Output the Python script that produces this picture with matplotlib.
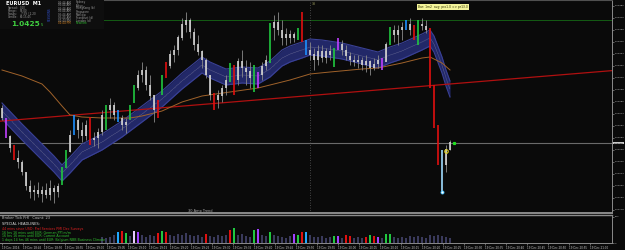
import matplotlib
matplotlib.use("Agg")
import matplotlib.pyplot as plt
import matplotlib.transforms as mtransforms
import numpy as np

W, H = 625, 250
BG = "#0a0a0a"

# ---- EURUSD M1 price bars ----
bar_high = [1.04283, 1.04270, 1.04253, 1.04243, 1.04238, 1.04228, 1.04216, 1.04208, 1.04203, 1.04206,
            1.04202, 1.04205, 1.04208, 1.04203, 1.04205, 1.04221, 1.04238, 1.04258, 1.04273, 1.04270,
            1.04266, 1.04268, 1.04271, 1.04256, 1.04260, 1.04278, 1.04283, 1.04290, 1.04286, 1.04278,
            1.04273, 1.04270, 1.04283, 1.04303, 1.04318, 1.04326, 1.04322, 1.04313, 1.04293, 1.04288,
            1.04313, 1.04326, 1.04338, 1.04343, 1.04353, 1.04370, 1.04376, 1.04370, 1.04360, 1.04353,
            1.04338, 1.04330, 1.04313, 1.04295, 1.04298, 1.04303, 1.04313, 1.04325, 1.04323, 1.04330,
            1.04338, 1.04328, 1.04326, 1.04323, 1.04316, 1.04326, 1.04333, 1.04365, 1.04373, 1.04376,
            1.04368, 1.04360, 1.04358, 1.04356, 1.04360, 1.04376, 1.04348, 1.04346, 1.04340, 1.04343,
            1.04343, 1.04340, 1.04343, 1.04340, 1.04350, 1.04348, 1.04343, 1.04336, 1.04333, 1.04333,
            1.04331, 1.04333, 1.04328, 1.04330, 1.04333, 1.04330, 1.04346, 1.04361, 1.04363, 1.04363,
            1.04366, 1.04368, 1.04370, 1.04363, 1.04368, 1.04370, 1.04368, 1.04360, 1.04303, 1.04263,
            1.04238, 1.04243, 1.04248]
bar_low = [1.04268, 1.04250, 1.04236, 1.04228, 1.04220, 1.04213, 1.04198, 1.04190, 1.04188, 1.04191,
           1.04186, 1.04190, 1.04188, 1.04185, 1.04191, 1.04203, 1.04220, 1.04236, 1.04253, 1.04250,
           1.04246, 1.04248, 1.04243, 1.04242, 1.04240, 1.04253, 1.04258, 1.04270, 1.04268, 1.04266,
           1.04258, 1.04255, 1.04268, 1.04285, 1.04298, 1.04306, 1.04298, 1.04288, 1.04266, 1.04270,
           1.04293, 1.04310, 1.04320, 1.04326, 1.04333, 1.04348, 1.04356, 1.04350, 1.04338, 1.04333,
           1.04320, 1.04310, 1.04288, 1.04278, 1.04280, 1.04286, 1.04293, 1.04306, 1.04293, 1.04303,
           1.04311, 1.04303, 1.04300, 1.04296, 1.04300, 1.04308, 1.04318, 1.04325, 1.04348, 1.04353,
           1.04343, 1.04343, 1.04345, 1.04346, 1.04348, 1.04346, 1.04333, 1.04328, 1.04318, 1.04323,
           1.04326, 1.04325, 1.04328, 1.04321, 1.04338, 1.04333, 1.04328, 1.04323, 1.04322, 1.04320,
           1.04318, 1.04316, 1.04313, 1.04318, 1.04320, 1.04318, 1.04328, 1.04343, 1.04346, 1.04343,
           1.04348, 1.04358, 1.04353, 1.04348, 1.04343, 1.04358, 1.04355, 1.04300, 1.04260, 1.04223,
           1.04196, 1.04216, 1.04238]
bar_close = [1.04270, 1.04252, 1.04240, 1.04230, 1.04226, 1.04216, 1.04202, 1.04196, 1.04198, 1.04194,
             1.04198, 1.04193, 1.04200, 1.04196, 1.04202, 1.04218, 1.04236, 1.04253, 1.04268, 1.04258,
             1.04252, 1.04263, 1.04248, 1.04250, 1.04256, 1.04273, 1.04278, 1.04283, 1.04273, 1.04270,
             1.04263, 1.04266, 1.04280, 1.04300, 1.04313, 1.04318, 1.04303, 1.04292, 1.04278, 1.04284,
             1.04308, 1.04322, 1.04333, 1.04338, 1.04350, 1.04363, 1.04368, 1.04356, 1.04343, 1.04336,
             1.04328, 1.04313, 1.04293, 1.04288, 1.04292, 1.04300, 1.04308, 1.04318, 1.04308, 1.04326,
             1.04320, 1.04316, 1.04310, 1.04318, 1.04313, 1.04322, 1.04328, 1.04360, 1.04366, 1.04358,
             1.04350, 1.04353, 1.04350, 1.04353, 1.04356, 1.04350, 1.04338, 1.04333, 1.04328, 1.04336,
             1.04330, 1.04336, 1.04333, 1.04338, 1.04343, 1.04338, 1.04332, 1.04328, 1.04326, 1.04328,
             1.04323, 1.04326, 1.04320, 1.04324, 1.04328, 1.04326, 1.04343, 1.04358, 1.04353, 1.04358,
             1.04360, 1.04363, 1.04358, 1.04356, 1.04364, 1.04362, 1.04358, 1.04303, 1.04263, 1.04238,
             1.04223, 1.04238, 1.04245]
first_open = 1.04280

# bars painted by the signal indicator
bar_paint = {1: "#c040ff", 3: "#e01010", 15: "#20c840", 16: "#20c840", 18: "#1e90ff",
             22: "#e01010", 26: "#20c840", 29: "#1e90ff", 32: "#20c840", 33: "#20c840",
             39: "#e01010", 40: "#20c840", 41: "#e01010", 53: "#e01010", 57: "#20c840",
             58: "#e01010", 63: "#20c840", 64: "#c040ff", 67: "#20c840", 74: "#20c840",
             75: "#e01010", 76: "#1e90ff", 83: "#20c840", 84: "#c040ff", 95: "#c040ff",
             97: "#20c840", 101: "#1e90ff", 103: "#e01010", 104: "#20c840", 107: "#e01010",
             108: "#e01010", 109: "#e01010", 110: "#9fdcff"}

# envelope band (centre) and slow moving average
band_idx = [0, 5, 10, 13, 15, 17, 20, 25, 30, 35, 40, 45, 50, 52, 56, 60, 64, 67, 70, 72,
            75, 77, 80, 85, 90, 94, 97, 100, 105, 107, 108, 110, 111, 112]
band_mid = [1.04277, 1.04256, 1.04236, 1.04224, 1.04215, 1.04223, 1.04236, 1.04246, 1.04259, 1.04274,
            1.04289, 1.04307, 1.04323, 1.04318, 1.04311, 1.04313, 1.04312, 1.04319, 1.04330, 1.04334,
            1.04338, 1.04341, 1.04340, 1.04337, 1.04332, 1.04328, 1.04333, 1.04337, 1.04346, 1.04350,
            1.04344, 1.04323, 1.04310, 1.04299]
band_half = 0.00008

ma_idx = [0, 5, 10, 12, 15, 17, 20, 25, 32, 35, 40, 45, 50, 57, 64, 67, 72, 77, 82, 90,
          94, 100, 105, 107, 110, 112]
ma_val = [1.04318, 1.04312, 1.04304, 1.04296, 1.04282, 1.04273, 1.04271, 1.04270, 1.04270, 1.04272,
          1.04277, 1.04286, 1.04292, 1.04296, 1.04300, 1.04303, 1.04308, 1.04314, 1.04316, 1.04319,
          1.04320, 1.04325, 1.04330, 1.04331, 1.04325, 1.04318]

trend_idx = [0, 112]
trend_val = [1.04267, 1.04304]
resistance = 1.04368
session_line_idx = 77
signal_idx = 111
signal_val = 1.04237

# tick count sub-window
vol_start = 25
vol_count = [22, 18, 25, 30, 42, 48, 40, 28, 47, 45, 30, 25, 33, 28, 40, 46, 44, 32, 27, 35,
             30, 38, 33, 26, 30, 24, 36, 28, 22, 30, 26, 32, 50, 60, 30, 34, 28, 24, 52, 55,
             30, 26, 44, 32, 28, 24, 20, 26, 34, 30, 44, 42, 30, 25, 22, 28, 20, 24, 28, 26,
             18, 30, 26, 20, 24, 18, 22, 32, 28, 24, 20, 34, 36, 22, 18, 24, 20, 26, 22, 28,
             24, 20, 30, 26, 32, 28, 22, 18]
vol_paint = {29: "#20a8ff", 30: "#e01010", 31: "#20c840", 33: "#e8c8ff", 34: "#a040ff",
             39: "#e01010", 40: "#20c840", 41: "#e01010", 51: "#e01010", 57: "#e01010",
             58: "#20c840", 63: "#20c840", 64: "#a040ff", 67: "#20c840", 73: "#a040ff",
             74: "#20c840", 75: "#e01010", 76: "#20a8ff", 83: "#20c840", 84: "#a040ff",
             86: "#e01010", 87: "#e01010", 91: "#e01010", 92: "#20c840", 93: "#e01010",
             94: "#a040ff", 96: "#20c840", 97: "#20c840"}

date_labels = ["19 Dec 2016", "19 Dec 18:45", "19 Dec 18:50", "19 Dec 18:55", "19 Dec 19:00",
               "19 Dec 19:05", "19 Dec 19:10", "19 Dec 19:15", "19 Dec 19:20", "19 Dec 19:25",
               "19 Dec 19:30", "19 Dec 19:35", "19 Dec 19:40", "19 Dec 19:45", "19 Dec 19:50",
               "19 Dec 19:55", "19 Dec 20:00", "19 Dec 20:05", "19 Dec 20:10", "19 Dec 20:15",
               "19 Dec 20:20", "19 Dec 20:25", "19 Dec 20:30", "19 Dec 20:35", "19 Dec 20:40",
               "19 Dec 20:45", "19 Dec 20:50", "19 Dec 20:55", "19 Dec 21:00"]

sessions = ["Sydney", "Tokyo", "HongKong (b)", "Singapore", "Moscow", "Frankfurt (d)",
            "London (d)", "NewYork"]
session_times = ["05:44 AM", "05:44 AM", "05:44 AM", "05:44 AM", "05:44 AM", "05:44 AM",
                 "01:44 PM", "01:44 PM"]
info_rows = [("Spread:", "0.20"), ("Range:", "59.00"), ("Swaps:", "-7.59 / 2.20"),
             ("Candle:", "00:15:45")]
headlines = [("44 mins since USD: Prel Services PMI Dec Surveys", "#e02020"),
             ("16 hrs 16 mins until EUR: German PPI m/m", "#30c030"),
             ("16 hrs 16 mins until EUR: Current Account", "#30c030"),
             ("1 days 14 hrs 46 mins until EUR: Belgium NBB Business Climate", "#30c030")]


def px_text(x, y, s, **kw):
    kw.setdefault("va", "center")
    fig.text(x / W, 1 - y / H, s, **kw)


fig = plt.figure(figsize=(W / 100, H / 100), dpi=100, facecolor=BG)
ax = fig.add_axes([0, 1 - 213 / H, 612 / W, 213 / H], facecolor=BG)
sub = fig.add_axes([0, 7 / H, 612 / W, 28 / H], facecolor=BG)

n = len(bar_close)
idx = np.arange(n)
opens = [first_open] + bar_close[:-1]

# band, trend line, moving average
bm = np.array(band_mid)
ax.fill_between(band_idx, bm - band_half, bm + band_half, color="#222868", lw=0, zorder=1)
ax.plot(band_idx, bm + band_half, color="#3a4196", lw=0.8, zorder=1.1)
ax.plot(band_idx, bm - band_half, color="#3a4196", lw=0.8, zorder=1.1)
ax.plot(band_idx, bm, color="#8a8aa8", lw=0.4, ls=(0, (1, 1)), zorder=1.2)
ax.axline((trend_idx[0], trend_val[0]), (trend_idx[1], trend_val[1]), color="#b01010", lw=0.9, zorder=1.5)
ax.plot(ma_idx, ma_val, color="#a0622a", lw=0.7, zorder=1.6)
ax.axhline(resistance, color="#145c14", lw=0.7, zorder=0.5)
ax.axhline(bar_close[-1], color="#6a6a6a", lw=0.8, zorder=0.5)
ax.axvline(session_line_idx, color="#5a5a5a", lw=0.6, ls=(0, (1, 2)), zorder=0.5)

# bars
for i in idx:
    c = bar_paint.get(int(i))
    if c:
        ax.vlines(i, bar_low[i], bar_high[i], color=c, lw=1.2, zorder=3)
    else:
        ax.vlines(i, bar_low[i], bar_high[i], color="#8a8a8a", lw=0.6, zorder=2)
        lo, hi = min(opens[i], bar_close[i]), max(opens[i], bar_close[i])
        ax.vlines(i, lo, hi + 0.000005, color="#d4d4d4", lw=1.2, zorder=2.5)

ax.plot(signal_idx, signal_val, "o", ms=2.5, mfc="none", mec="#e0d020", mew=0.8, zorder=4)
ax.plot(110, bar_low[110], "o", ms=2.2, mfc="#ffffff", mec="#40c0ff", mew=0.6, zorder=4)
ax.plot(n, bar_close[-1], "s", ms=1.3, color="#20e020", zorder=4)

ax.set_xlim(-0.5, 152.5)
ax.set_ylim(1.04175, 1.04388)
ax.set_xticks([])
ax.yaxis.tick_right()
ax.set_yticks(np.arange(1.04382, 1.04175, -0.00012))
ax.yaxis.set_major_formatter(matplotlib.ticker.FormatStrFormatter("%.5f"))
ax.tick_params(axis="y", length=1.5, width=0.5, colors="#8a8a8a", labelsize=1.7, labelcolor="#c8c8c8", pad=0.4)
ax.spines["left"].set_visible(False)
ax.spines["right"].set_color("#8a8a8a")
ax.spines["right"].set_linewidth(0.7)
ax.spines["top"].set_color("#505050")
ax.spines["top"].set_linewidth(0.8)
ax.spines["bottom"].set_color("#8a8a8a")
ax.spines["bottom"].set_linewidth(1.4)

tr = mtransforms.blended_transform_factory(ax.transAxes, ax.transData)
ax.text(1.003, bar_close[-1], "%.5f" % bar_close[-1], transform=tr, fontsize=1.7, color="#000000",
        va="center", ha="left", clip_on=False,
        bbox=dict(boxstyle="square,pad=0.15", fc="#c8c8c8", ec="none"))
ax.text(session_line_idx + 0.5, 1.04384, "3d", fontsize=2.2, color="#a0a060", va="center", ha="left")
ax.text(104, 1.04381, "Bar: 1m2  avg: pro1.0 => pr13.0", fontsize=2.2, color="#303000", va="center",
        ha="left", bbox=dict(boxstyle="square,pad=0.3", fc="#f4f49a", ec="none"), zorder=5)

# tick count sub-window
vx = np.arange(vol_start, vol_start + len(vol_count))
vcol = [vol_paint.get(int(i), "#3a3a5c") for i in vx]
sub.bar(vx, vol_count, width=0.65, color=vcol, lw=0)
sub.set_xlim(-0.5, 152.5)
sub.set_ylim(0, 110)
sub.yaxis.tick_right()
sub.set_yticks([0, 104])
sub.tick_params(axis="y", length=1.5, width=0.5, colors="#8a8a8a", labelsize=1.7, labelcolor="#c8c8c8", pad=0.4)
sub.set_xticks(np.arange(0, 152, 5.25))
sub.set_xticklabels(date_labels, ha="left")
sub.tick_params(axis="x", length=1.5, width=0.5, colors="#8a8a8a", labelsize=2, labelcolor="#c8c8c8", pad=0.8)
sub.spines["left"].set_visible(False)
for s in ["right", "bottom"]:
    sub.spines[s].set_color("#8a8a8a")
    sub.spines[s].set_linewidth(0.7)
sub.spines["top"].set_color("#8a8a8a")
sub.spines["top"].set_linewidth(1.0)

px_text(2, 218, "Broker Tick Prfl   Count: 23", fontsize=2.6, color="#c0c0c0")
px_text(2, 224, "SPECIAL HEADLINES:", fontsize=2.6, color="#e0e0e0")
for k, (txt, col) in enumerate(headlines):
    px_text(2, 229 + 3.6 * k, txt, fontsize=2.3, color=col)
px_text(188, 211, "30 Amp Trend", fontsize=2.5, color="#b0b0b0")

# info panel
fig.patches.append(plt.Rectangle((0, 1 - 29 / H), 104 / W, 29 / H, transform=fig.transFigure,
                                 fc="#0e0e0e", ec="none", zorder=5))
px_text(6, 3.5, "EURUSD  M1", fontsize=3.6, color="#ffffff", weight="bold", zorder=6)
for k, (lab, val) in enumerate(info_rows):
    px_text(8, 8 + 3 * k, lab, fontsize=2, color="#9a9a9a", zorder=6)
    px_text(20, 8 + 3 * k, val, fontsize=2, color="#9a9a9a", zorder=6)
px_text(11, 24, "%.4f" % bar_close[-1], fontsize=5.3, color="#40d040", weight="bold", zorder=6)
px_text(41, 25, "5", fontsize=2.8, color="#40d040", zorder=6)
px_text(50, 14, "SESSIONS", fontsize=2, color="#3050d0", rotation=90, ha="center", zorder=6)
for k, (t, name) in enumerate(zip(session_times, sessions)):
    last = k == len(sessions) - 1
    px_text(58, 2.5 + 3 * k, t, fontsize=2, color="#d08020" if last else "#9a9a9a", zorder=6)
    px_text(76, 2.5 + 3 * k, name, fontsize=2, color="#30c030" if last else "#9a9a9a", zorder=6)

fig.savefig("out.png", dpi=100, facecolor=BG)
